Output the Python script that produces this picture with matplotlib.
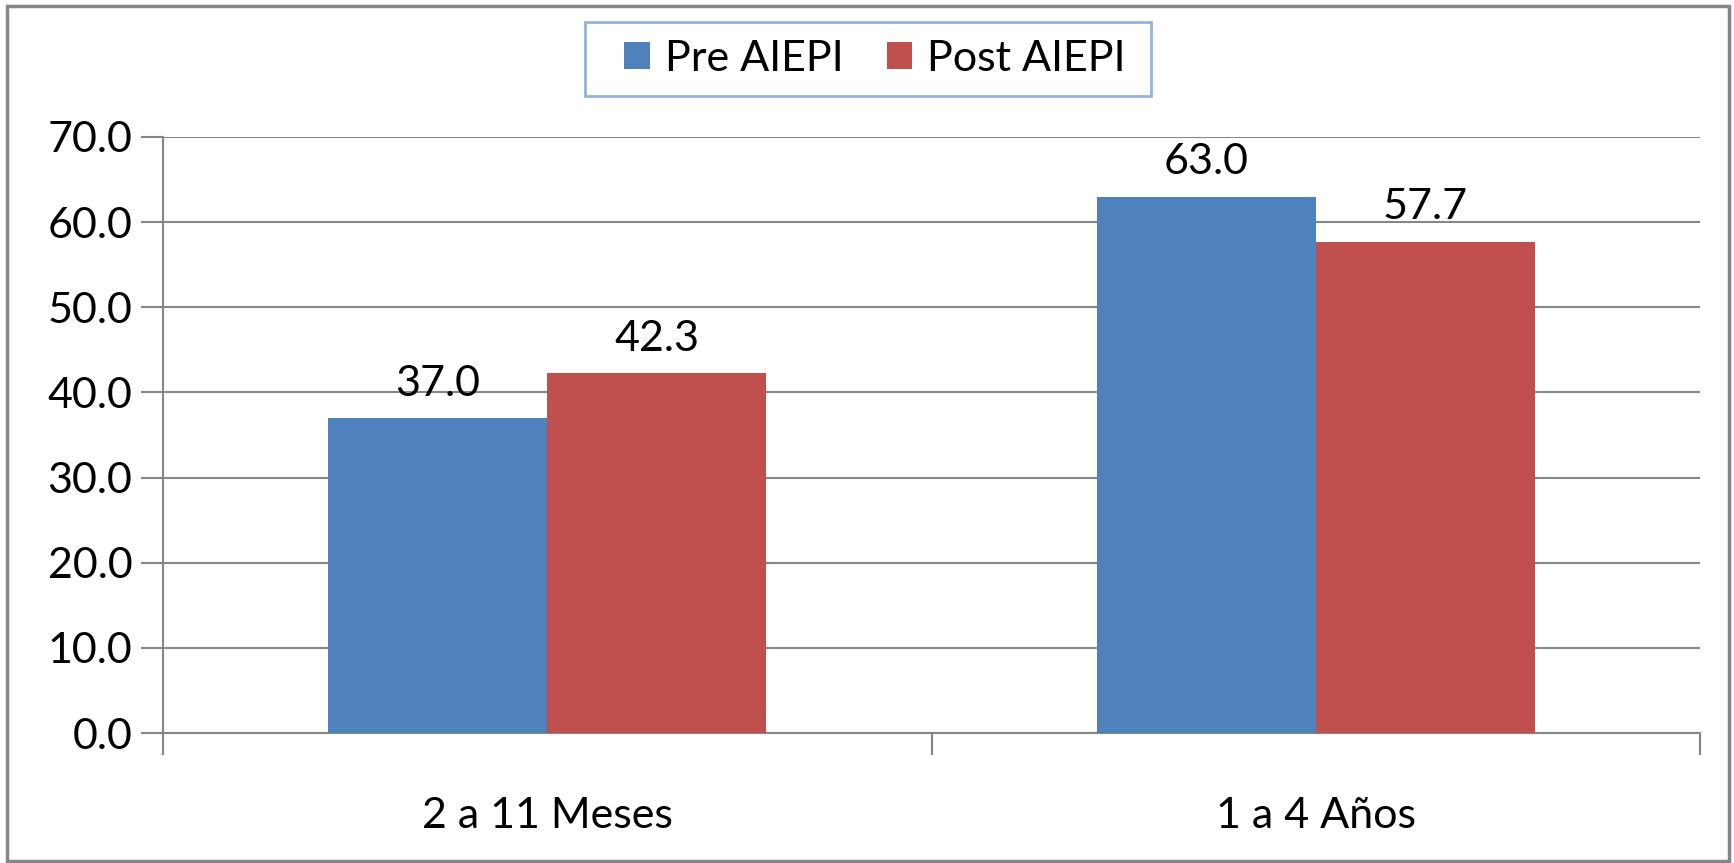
import numpy as np
import matplotlib.pyplot as plt
from matplotlib.patches import Rectangle

categories = ['2 a 11 Meses', '1 a 4 Años']
series_names = ['Pre AIEPI', 'Post AIEPI']
pre_values = [37.0, 63.0]
post_values = [42.3, 57.7]
colors = ['#4f81bd', '#c0504d']

plt.rcParams['font.family'] = ['Lato', 'DejaVu Sans']
fs = 31
W, H = 1734, 863

fig = plt.figure(figsize=(W / 100, H / 100), dpi=100)
ax = fig.add_axes([163 / W, 1 - 733 / H, 1537 / W, 596 / H])

x = np.arange(len(categories))
w = 0.285
b1 = ax.bar(x - w / 2, pre_values, w, color=colors[0], label=series_names[0], zorder=3)
b2 = ax.bar(x + w / 2, post_values, w, color=colors[1], label=series_names[1], zorder=3)

for bars, vals in [(b1, pre_values), (b2, post_values)]:
    for rect, v in zip(bars, vals):
        ax.text(rect.get_x() + rect.get_width() / 2, v + 1.8, f'{v:.1f}',
                ha='center', va='bottom', fontsize=fs)

ax.set_xlim(-0.5, 1.5)
ax.set_ylim(0, 70)
ax.set_yticks(np.arange(0, 71, 10))
ax.set_yticklabels([f'{t:.1f}' for t in np.arange(0, 71, 10)], fontsize=fs)
ax.yaxis.grid(True, color='#868686', linewidth=1.5, zorder=0)

ax.set_xticks([-0.5, 0.5, 1.5])
ax.set_xticklabels([])
ax.set_xticks(x, minor=True)
ax.set_xticklabels(categories, minor=True, fontsize=fs)
ax.tick_params(axis='x', which='minor', length=0, pad=46)
ax.tick_params(axis='x', which='major', length=16, width=1.5, color='#868686', direction='out')
ax.tick_params(axis='y', length=16, width=1.5, color='#868686', direction='out', pad=6)

for s in ['top', 'right']:
    ax.spines[s].set_visible(False)
for s in ['left', 'bottom']:
    ax.spines[s].set_color('#868686')
    ax.spines[s].set_linewidth(1.5)

# legend without frame, box drawn separately
fig.legend(loc='center', bbox_to_anchor=(875 / W, 1 - 59 / H),
           ncol=2, fontsize=fs, frameon=False,
           handlelength=0.6, handleheight=0.6, handletextpad=0.35,
           columnspacing=1.0, borderpad=0, borderaxespad=0)
fig.patches.append(Rectangle((585 / W, 1 - 96 / H), 566 / W, 74 / H,
                             transform=fig.transFigure, fill=False,
                             edgecolor='#95b3d7', linewidth=2))

# outer chart border
fig.patches.append(Rectangle((7 / W, 2 / H), 1722 / W, 855 / H,
                             transform=fig.transFigure, fill=False,
                             edgecolor='#868686', linewidth=2.5))

fig.savefig('out.png', dpi=100)
